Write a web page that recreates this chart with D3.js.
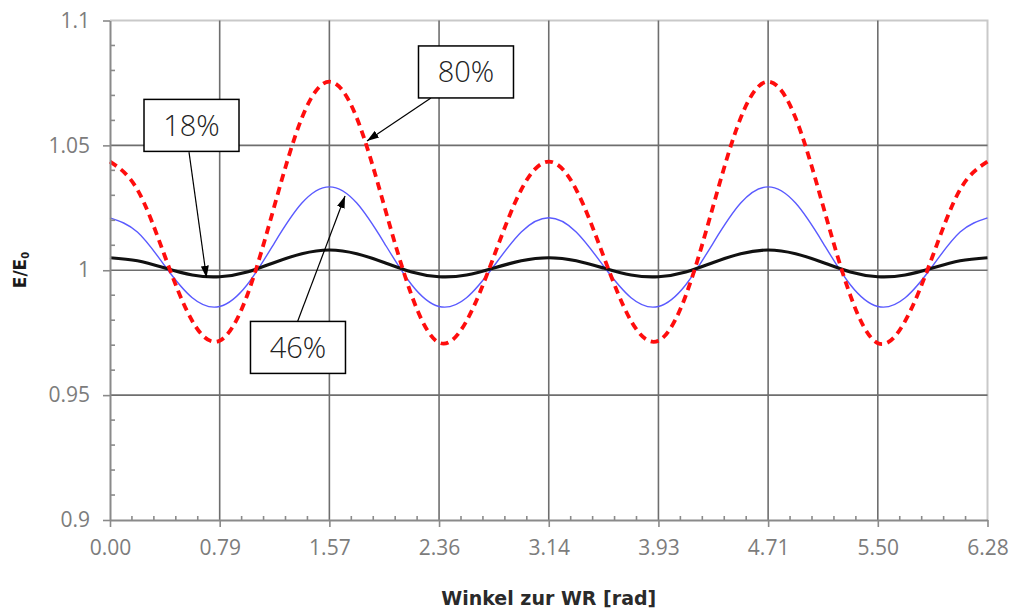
<!DOCTYPE html>
<html>
<head>
<meta charset="utf-8">
<script src="https://cdn.jsdelivr.net/npm/d3@7"></script>
<style>
  html, body { margin: 0; padding: 0; background: #fff; }
  svg { display: block; }
</style>
</head>
<body>
<svg id="chart" width="1012" height="613"></svg>
<script>
// Angle to the WR in radians (sampled every pi/16)
const angles = [0, 0.196, 0.393, 0.589, 0.785, 0.982, 1.178, 1.374, 1.571, 1.767, 1.963, 2.160,
  2.356, 2.553, 2.749, 2.945, 3.142, 3.338, 3.534, 3.731, 3.927, 4.123, 4.320, 4.516,
  4.712, 4.909, 5.105, 5.301, 5.498, 5.694, 5.890, 6.087, 6.283];

// E/E0 for the three cases
const e18 = [1.0050, 1.0038, 1.0009, 0.9981, 0.9974, 0.9993, 1.0031, 1.0066, 1.0081, 1.0066, 1.0031, 0.9993,
  0.9974, 0.9981, 1.0009, 1.0038, 1.0050, 1.0038, 1.0009, 0.9981, 0.9974, 0.9993, 1.0031, 1.0066,
  1.0081, 1.0066, 1.0031, 0.9993, 0.9974, 0.9981, 1.0009, 1.0038, 1.0050];
const e46 = [1.0210, 1.0153, 1.0017, 0.9890, 0.9855, 0.9942, 1.0110, 1.0269, 1.0334, 1.0269, 1.0110, 0.9942,
  0.9855, 0.9890, 1.0017, 1.0153, 1.0210, 1.0153, 1.0017, 0.9890, 0.9855, 0.9942, 1.0110, 1.0269,
  1.0334, 1.0269, 1.0110, 0.9942, 0.9855, 0.9890, 1.0017, 1.0153, 1.0210];
const e80 = [1.0435, 1.0323, 1.0056, 0.9797, 0.9718, 0.9899, 1.0259, 1.0610, 1.0755, 1.0610, 1.0259, 0.9899,
  0.9710, 0.9797, 1.0056, 1.0323, 1.0435, 1.0323, 1.0056, 0.9797, 0.9718, 0.9899, 1.0259, 1.0610,
  1.0755, 1.0610, 1.0259, 0.9899, 0.9708, 0.9797, 1.0056, 1.0323, 1.0435];

// Axis ticks
const xTicks = [0, 0.7854, 1.5708, 2.3562, 3.1416, 3.9270, 4.7124, 5.4978, 6.2832];
const yTicks = [0.9, 0.95, 1.0, 1.05, 1.1];
const yTickLabels = ["0.9", "0.95", "1", "1.05", "1.1"];

// Callout labels: text, box centre and arrow start/tip in data units
const callouts = [
  { text: "18%", box: [0.5836, 1.0580], from: [0.5657, 1.0473], to: [0.6910, 0.9970] },
  { text: "80%", box: [2.5490, 1.0794], from: [2.2980, 1.0690], to: [1.8400, 1.0518] },
  { text: "46%", box: [1.3460, 0.9691], from: [1.3390, 0.9789], to: [1.6830, 1.0297] }
];

const svg = d3.select("#chart");
const plot = { left: 110, right: 987.5, top: 20.5, bottom: 520 };

const x = d3.scaleLinear().domain([0, 6.2832]).range([plot.left, plot.right]);
const y = d3.scaleLinear().domain([0.9, 1.1]).range([plot.bottom, plot.top]);

const labelFont = "'Open Sans', 'DejaVu Sans', sans-serif";
const titleFont = "'DejaVu Sans', Verdana, sans-serif";

// Plot border (top and right, light)
svg.append("path")
  .attr("d", `M${plot.left},${plot.top}H${plot.right}V${plot.bottom}`)
  .attr("fill", "none").attr("stroke", "#c9c9c9").attr("stroke-width", 2);

// Gridlines
const grid = svg.append("g").attr("stroke", "#6e6e6e").attr("stroke-width", 1.6);
grid.selectAll("line.v").data(xTicks.slice(1, -1)).join("line")
  .attr("x1", d => x(d)).attr("x2", d => x(d))
  .attr("y1", plot.top).attr("y2", plot.bottom);
grid.selectAll("line.h").data(yTicks.slice(1, -1)).join("line")
  .attr("x1", plot.left).attr("x2", plot.right)
  .attr("y1", d => y(d)).attr("y2", d => y(d));

// Curves
const line = d3.line().curve(d3.curveNatural)
  .x(d => x(d[0])).y(d => y(d[1]));
const series = [
  { values: e46, color: "#5a5aff", width: 1.4, dash: null },
  { values: e18, color: "#111111", width: 3.2, dash: null },
  { values: e80, color: "#ff0d0d", width: 3.8, dash: "8,5.5" }
];
series.forEach(s => {
  svg.append("path")
    .datum(angles.map((a, i) => [a, s.values[i]]))
    .attr("d", line)
    .attr("fill", "none")
    .attr("stroke", s.color)
    .attr("stroke-width", s.width)
    .attr("stroke-dasharray", s.dash)
    .attr("stroke-linejoin", "round");
});

// Y axis: major ticks outside, minor ticks inside
const axisColor = "#8a8a8a";
const yAxis = svg.append("g").attr("transform", `translate(${plot.left},0)`);
yAxis.call(d3.axisLeft(y).tickValues(yTicks).tickSize(7).tickSizeOuter(0)
  .tickFormat((d, i) => yTickLabels[i]).tickPadding(13));
const yMinor = d3.range(0.91, 1.1, 0.01).filter(v => Math.abs(Math.round(v * 20) - v * 20) > 1e-6);
yAxis.selectAll("line.minor").data(yMinor).join("line")
  .attr("class", "minor")
  .attr("x1", 0).attr("x2", 5)
  .attr("y1", d => y(d)).attr("y2", d => y(d));

// X axis: major ticks outside, minor ticks inside
const xAxis = svg.append("g").attr("transform", `translate(0,${plot.bottom})`);
xAxis.call(d3.axisBottom(x).tickValues(xTicks).tickSize(7).tickSizeOuter(0)
  .tickFormat(d3.format(".2f")).tickPadding(13));
const xMinor = [];
for (let i = 0; i < xTicks.length - 1; i++) {
  for (let j = 1; j < 5; j++) xMinor.push(xTicks[i] + (xTicks[i + 1] - xTicks[i]) * j / 5);
}
xAxis.selectAll("line.minor").data(xMinor).join("line")
  .attr("class", "minor")
  .attr("x1", d => x(d)).attr("x2", d => x(d))
  .attr("y1", 0).attr("y2", -4);

[xAxis, yAxis].forEach(g => {
  g.select(".domain").attr("stroke", axisColor).attr("stroke-width", 2);
  g.selectAll("line").attr("stroke", axisColor).attr("stroke-width", 1.6);
  g.selectAll("text")
    .attr("fill", "#7c7c7c")
    .style("font-family", labelFont)
    .style("font-size", "21px")
    .style("font-weight", 400);
});

// Axis titles
svg.append("text")
  .attr("x", (plot.left + plot.right) / 2).attr("y", 605)
  .attr("text-anchor", "middle")
  .attr("fill", "#2a2a2a")
  .style("font-family", titleFont).style("font-size", "19px").style("font-weight", 700)
  .text("Winkel zur WR [rad]");

const yTitle = svg.append("text")
  .attr("transform", "translate(26,270) rotate(-90)")
  .attr("text-anchor", "middle")
  .attr("fill", "#1a1a1a")
  .style("font-family", titleFont).style("font-size", "17px").style("font-weight", 700);
yTitle.append("tspan").text("E/E");
yTitle.append("tspan").attr("font-size", "10px").attr("dy", 3).text("0");

// Callouts
svg.append("defs").append("marker")
  .attr("id", "arrow").attr("markerUnits", "userSpaceOnUse")
  .attr("viewBox", "0 0 12 8").attr("refX", 12).attr("refY", 4)
  .attr("markerWidth", 12).attr("markerHeight", 8).attr("orient", "auto")
  .append("path").attr("d", "M0,0L12,4L0,8Z").attr("fill", "#000");

const boxW = 95, boxH = 52;
const cg = svg.append("g");
callouts.forEach(c => {
  cg.append("line")
    .attr("x1", x(c.from[0])).attr("y1", y(c.from[1]))
    .attr("x2", x(c.to[0])).attr("y2", y(c.to[1]))
    .attr("stroke", "#000").attr("stroke-width", 1.2)
    .attr("marker-end", "url(#arrow)");
  cg.append("rect")
    .attr("x", x(c.box[0]) - boxW / 2).attr("y", y(c.box[1]) - boxH / 2)
    .attr("width", boxW).attr("height", boxH)
    .attr("fill", "#fff").attr("stroke", "#000").attr("stroke-width", 1.5);
  cg.append("text")
    .attr("x", x(c.box[0])).attr("y", y(c.box[1]))
    .attr("text-anchor", "middle").attr("dy", "0.36em")
    .attr("fill", "#222")
    .style("font-family", labelFont).style("font-size", "29px").style("font-weight", 300)
    .text(c.text);
});
</script>
</body>
</html>
